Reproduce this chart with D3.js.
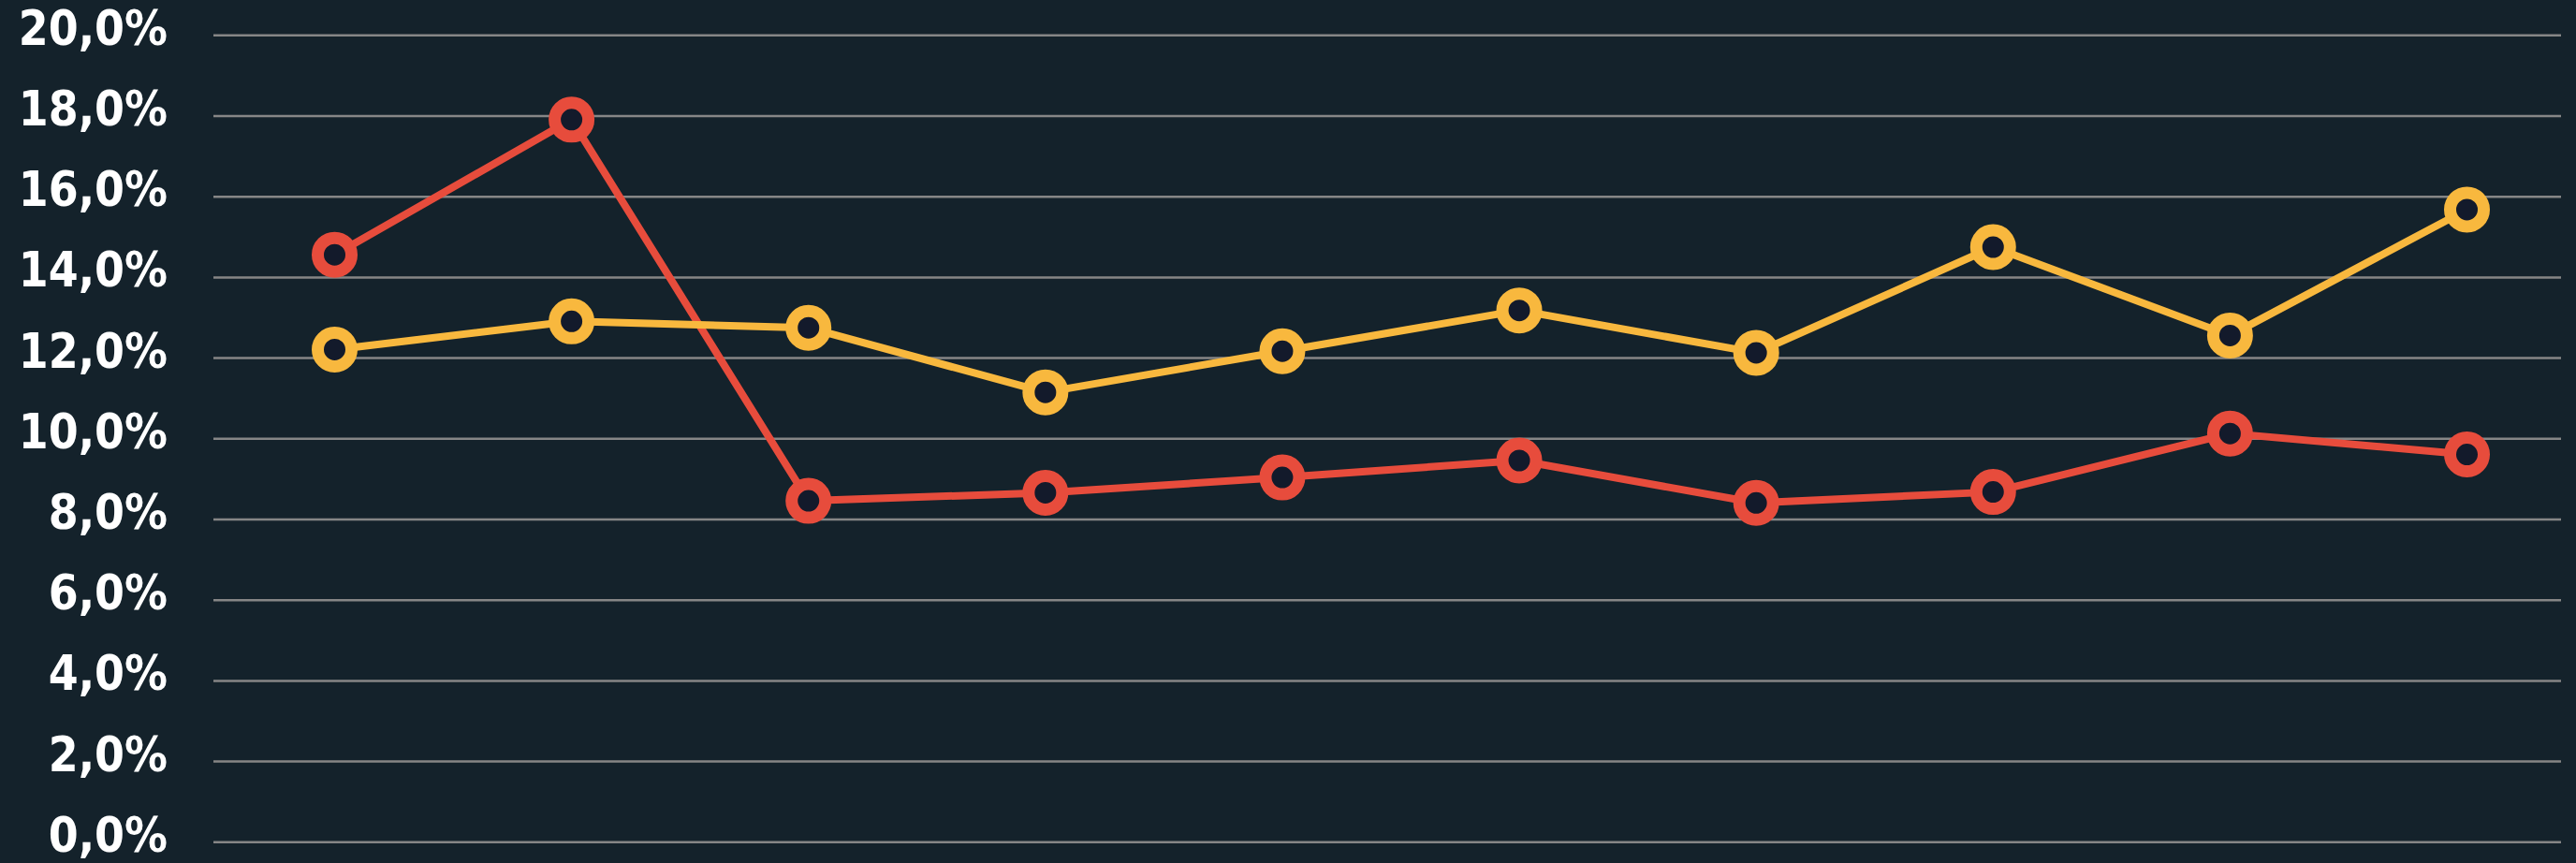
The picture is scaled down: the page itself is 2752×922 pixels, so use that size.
<!DOCTYPE html>
<html>
<head>
<meta charset="utf-8">
<script src="https://cdn.jsdelivr.net/npm/d3@7"></script>
<style>
  html, body { margin: 0; padding: 0; background: #14222b; }
  svg { display: block; }
</style>
</head>
<body>
<svg id="chart" width="2752" height="922"></svg>
<script>
// Data
const categories = ["1", "2", "3", "4", "5", "6", "7", "8", "9", "10"];
const seriesRed = [14.55, 17.9, 8.45, 8.65, 9.03, 9.45, 8.4, 8.67, 10.12, 9.6];
const seriesYellow = [12.2, 12.9, 12.74, 11.14, 12.16, 13.17, 12.12, 14.74, 12.55, 15.67];
const yTicks = [0, 2, 4, 6, 8, 10, 12, 14, 16, 18, 20];

const W = 2752, H = 922;
const svg = d3.select("#chart");

svg.append("rect").attr("width", W).attr("height", H).attr("fill", "#14222b");

const x = d3.scalePoint().domain(categories).range([357.5, 2635.5]);
const y = d3.scaleLinear().domain([0, 20]).range([899.3, 37.3]);

const fmt = v => d3.format(".1f")(v).replace(".", ",") + "%";

// Gridlines via axis
const grid = svg.append("g")
  .attr("transform", "translate(228,0)")
  .call(d3.axisRight(y).tickValues(yTicks).tickSize(2508).tickFormat(""));
grid.select(".domain").remove();
grid.selectAll(".tick line").attr("stroke", "#868686").attr("stroke-width", 2.5);

// Labels via axis
const labels = svg.append("g")
  .attr("transform", "translate(179,0)")
  .call(d3.axisLeft(y).tickValues(yTicks).tickSize(0).tickPadding(0).tickFormat(fmt));
labels.select(".domain").remove();
labels.selectAll(".tick text")
  .attr("fill", "#ffffff")
  .attr("dy", null)
  .attr("y", 10)
  .style("font-family", "'Liberation Sans Narrow', 'DejaVu Sans Condensed', 'Roboto Condensed', sans-serif")
  .style("font-weight", "bold")
  .style("font-size", "51px");

const line = d3.line().x((d, i) => x(categories[i])).y(d => y(d));

const series = [
  { values: seriesRed, color: "#e74c3c" },
  { values: seriesYellow, color: "#f8b83e" }
];

series.forEach(s => {
  svg.append("path")
    .datum(s.values)
    .attr("fill", "none")
    .attr("stroke", s.color)
    .attr("stroke-width", 8)
    .attr("stroke-linejoin", "round")
    .attr("d", line);
});

series.forEach(s => {
  svg.append("g").selectAll("circle")
    .data(s.values)
    .join("circle")
    .attr("cx", (d, i) => x(categories[i]))
    .attr("cy", d => y(d))
    .attr("r", 18)
    .attr("fill", "#131a2b")
    .attr("stroke", s.color)
    .attr("stroke-width", 13);
});
</script>
</body>
</html>
